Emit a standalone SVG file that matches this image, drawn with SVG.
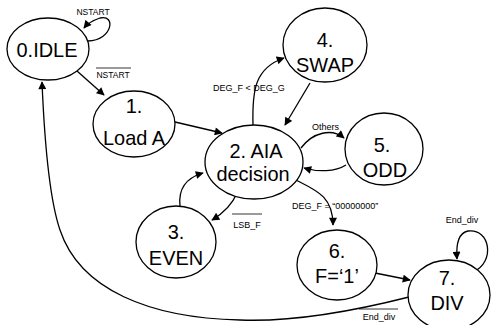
<svg xmlns="http://www.w3.org/2000/svg" width="492" height="325" viewBox="0 0 492 325">
<defs>
<marker id="arr" viewBox="0 0 10 10" refX="9" refY="5" markerWidth="9" markerHeight="8" markerUnits="userSpaceOnUse" orient="auto">
<path d="M0,0 L10,5 L0,10 z" fill="#000"/>
</marker>
</defs>
<style>
.n{fill:#fff;stroke:#000;stroke-width:1.3}
.t{font-family:"Liberation Sans",Arial,sans-serif;font-size:21px;fill:#000;text-anchor:middle}
.c{fill:none;stroke:#000;stroke-width:1.3;marker-end:url(#arr)}
.l{font-family:"Liberation Sans",Arial,sans-serif;font-size:9px;fill:#000}
.o{stroke:#000;stroke-width:0.8}
</style>
<rect width="492" height="325" fill="#fff"/>
<g id="connectors">
<path class="c" d="M88,41 C113,40 116,14 100,18 C94,20 88,23 84,28"/>
<line class="c" x1="77" y1="71" x2="104" y2="95"/>
<line class="c" x1="175" y1="122" x2="222" y2="133"/>
<path class="c" d="M253,125 C252,90 255,68 284,58"/>
<line class="c" x1="310" y1="83" x2="285" y2="125"/>
<path class="c" d="M301,148 C313,132 332,128 344,138"/>
<path class="c" d="M346,165 C335,172 318,172 304,168"/>
<path class="c" d="M237,193 C232,205 222,214 212,220"/>
<path class="c" d="M180,206 C178,188 186,178 203,173"/>
<path class="c" d="M292,178 C315,190 333,195 333,225"/>
<line class="c" x1="375" y1="273" x2="410" y2="280"/>
<path class="c" d="M473,272 C496,262 490,228 468,231 C458,233 456,245 457,259"/>
<path class="c" d="M409,297 C350,312 290,322 240,320 C150,318 80,290 60,230 C48,195 44,130 42,82"/>
<text class="l" x="93" y="15" text-anchor="middle" style="font-size:8.5px">NSTART</text>
<text class="l" x="113" y="78" text-anchor="middle" style="font-size:8.5px">NSTART</text>
<line class="o" x1="96" y1="68" x2="131" y2="68"/>
<text class="l" x="213" y="91">DEG_F &lt; DEG_G</text>
<text class="l" x="312" y="130">Others</text>
<text class="l" x="247" y="228" text-anchor="middle">LSB_F</text>
<line class="o" x1="232" y1="214" x2="262" y2="214"/>
<text class="l" x="292" y="209">DEG_F = “00000000”</text>
<text class="l" x="462" y="223" text-anchor="middle">End_div</text>
<text class="l" x="379" y="320" text-anchor="middle">End_div</text>
<line class="o" x1="359" y1="309" x2="398" y2="309"/>
</g>
<g id="n0">
<ellipse class="n" cx="48" cy="49" rx="41" ry="31"/>
<text class="t" transform="translate(47,57) scale(0.95,1)">0.IDLE</text>
</g>
<g id="n1">
<ellipse class="n" cx="134" cy="124" rx="41" ry="33"/>
<text class="t" transform="translate(134,113) scale(0.95,1)">1.</text>
<text class="t" transform="translate(134,145) scale(0.95,1)">Load A</text>
</g>
<g id="n2">
<ellipse class="n" cx="254" cy="162" rx="49" ry="37"/>
<text class="t" transform="translate(256,158) scale(0.95,1)">2. AIA</text>
<text class="t" transform="translate(253,181) scale(0.95,1)">decision</text>
</g>
<g id="n3">
<ellipse class="n" cx="176" cy="242" rx="40" ry="36"/>
<text class="t" transform="translate(176,239) scale(0.95,1)">3.</text>
<text class="t" transform="translate(176,265) scale(0.95,1)">EVEN</text>
</g>
<g id="n4">
<ellipse class="n" cx="325" cy="45" rx="42" ry="37"/>
<text class="t" transform="translate(325,47) scale(0.95,1)">4.</text>
<text class="t" transform="translate(325,72) scale(0.95,1)">SWAP</text>
</g>
<g id="n5">
<ellipse class="n" cx="384" cy="149" rx="39" ry="36"/>
<text class="t" transform="translate(382,152) scale(0.95,1)">5.</text>
<text class="t" transform="translate(385,177) scale(0.95,1)">ODD</text>
</g>
<g id="n6">
<ellipse class="n" cx="337" cy="265" rx="40" ry="35"/>
<text class="t" transform="translate(337,258) scale(0.95,1)">6.</text>
<text class="t" transform="translate(337,283) scale(0.95,1)">F=‘1’</text>
</g>
<g id="n7">
<ellipse class="n" cx="449" cy="295" rx="41" ry="35"/>
<text class="t" transform="translate(447,285) scale(0.95,1)">7.</text>
<text class="t" transform="translate(447,310) scale(0.95,1)">DIV</text>
</g>
</svg>
